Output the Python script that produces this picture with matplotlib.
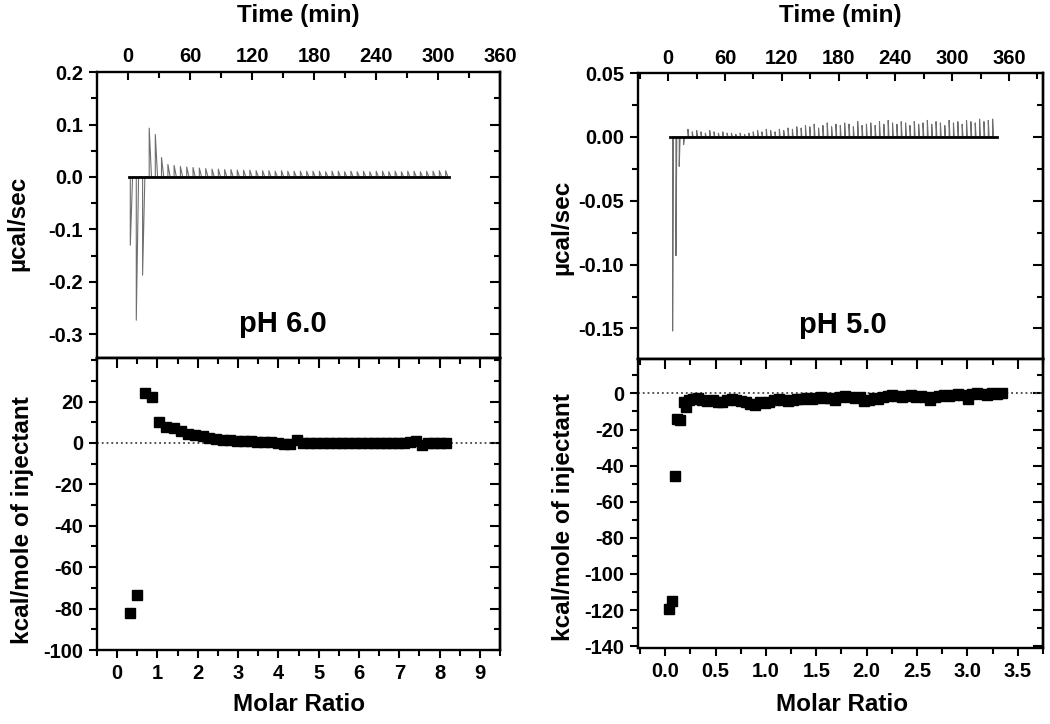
import matplotlib
matplotlib.use("Agg")
import matplotlib.pyplot as plt
from matplotlib.ticker import MultipleLocator, FixedLocator

plt.rcParams["font.family"] = ["Liberation Sans", "DejaVu Sans"]
plt.rcParams["font.weight"] = "bold"
plt.rcParams["axes.labelweight"] = "bold"
plt.rcParams["axes.unicode_minus"] = False

# --- pH 6.0 raw thermogram (injection time in min, peak in ucal/sec)
inj_time_ph6 = [2.2, 8.0, 14.1, 20.5, 26.4, 32.4, 38.6, 44.6, 50.7, 56.8,
                62.9, 69.0, 75.2, 81.3, 87.4, 93.5, 99.6, 105.7, 111.8, 117.9,
                124.0, 130.2, 136.3, 142.4, 148.5, 154.6, 160.7, 166.8, 172.9, 179.0,
                185.2, 191.3, 197.4, 203.5, 209.6, 215.7, 221.8, 227.9, 234.0, 240.2,
                246.3, 252.4, 258.5, 264.6, 270.7, 276.8, 282.9, 289.0, 295.2, 301.3,
                307.4]
inj_peak_ph6 = [-0.130, -0.273, -0.187, 0.093, 0.081, 0.037, 0.024, 0.022, 0.020, 0.019,
                0.018, 0.017, 0.016, 0.015, 0.015, 0.014, 0.014, 0.013, 0.013, 0.013,
                0.012, 0.012, 0.012, 0.011, 0.012, 0.011, 0.011, 0.011, 0.011, 0.011,
                0.011, 0.010, 0.011, 0.011, 0.010, 0.011, 0.010, 0.011, 0.010, 0.011,
                0.011, 0.010, 0.011, 0.010, 0.011, 0.011, 0.010, 0.011, 0.011, 0.012,
                0.012]
baseline_ph6 = [1.0, 311.0]

# --- pH 6.0 integrated heats
ratio_ph6 = [0.32, 0.50, 0.68, 0.86, 1.04, 1.22, 1.40, 1.58, 1.76, 1.94,
             2.12, 2.29, 2.46, 2.63, 2.80, 2.97, 3.14, 3.31, 3.48, 3.65,
             3.82, 3.98, 4.14, 4.30, 4.46, 4.62, 4.78, 4.94, 5.10, 5.26,
             5.42, 5.58, 5.74, 5.90, 6.06, 6.22, 6.37, 6.52, 6.67, 6.82,
             6.97, 7.12, 7.27, 7.42, 7.57, 7.72, 7.87, 8.02, 8.17]
heat_ph6 = [-82.0, -73.4, 23.9, 22.3, 10.2, 7.7, 7.0, 5.7, 4.5, 3.7,
            3.2, 2.6, 2.0, 1.6, 1.3, 1.1, 0.9, 0.7, 0.5, 0.4,
            0.3, 0.1, -0.7, -0.3, 1.5, -0.2, -0.1, -0.2, 0.0, -0.1,
            0.1, -0.2, 0.0, -0.1, 0.1, 0.0, -0.2, 0.1, -0.1, 0.0,
            0.2, 0.2, 0.4, 0.9, -0.8, 0.0, 0.1, -0.1, 0.0]
heat_ticks_ph6 = [-100, -80, -60, -40, -20, 0, 20]

# --- pH 5.0 raw thermogram
inj_time_ph5 = [4.6, 8.1, 11.6, 16.2, 20.8, 25.4, 30.0, 34.6, 39.2, 43.8,
                48.4, 53.0, 57.6, 62.2, 66.8, 71.4, 76.0, 80.6, 85.2, 89.8,
                94.4, 99.0, 103.6, 108.2, 112.8, 117.4, 122.0, 126.6, 131.2, 135.8,
                140.4, 145.0, 149.6, 154.2, 158.8, 163.4, 168.0, 172.6, 177.2, 181.8,
                186.4, 191.0, 195.6, 200.2, 204.8, 209.4, 214.0, 218.6, 223.2, 227.8,
                232.4, 237.0, 241.6, 246.2, 250.8, 255.4, 260.0, 264.6, 269.2, 273.8,
                278.4, 283.0, 287.6, 292.2, 296.8, 301.4, 306.0, 310.6, 315.2, 319.8,
                324.4, 329.0, 333.6, 338.2, 342.8]
inj_peak_ph5 = [-0.152, -0.093, -0.023, -0.006, 0.006, 0.004, 0.005, 0.004, 0.003, 0.005,
                0.004, 0.003, 0.004, 0.003, 0.003, 0.002, 0.003, 0.002, 0.003, 0.004,
                0.005, 0.004, 0.006, 0.005, 0.004, 0.006, 0.005, 0.007, 0.006, 0.008,
                0.007, 0.009, 0.008, 0.010, 0.007, 0.009, 0.011, 0.008, 0.010, 0.009,
                0.011, 0.010, 0.008, 0.012, 0.009, 0.010, 0.011, 0.009, 0.012, 0.010,
                0.013, 0.011, 0.010, 0.012, 0.011, 0.009, 0.012, 0.010, 0.011, 0.013,
                0.010, 0.012, 0.011, 0.009, 0.013, 0.011, 0.012, 0.010, 0.013, 0.012,
                0.011, 0.014, 0.012, 0.013, 0.014]
baseline_ph5 = [1.8, 347.0]

# --- pH 5.0 integrated heats
ratio_ph5 = [0.035, 0.07, 0.10, 0.115, 0.15, 0.185, 0.205, 0.235,
             0.28, 0.33, 0.37, 0.42, 0.47, 0.52, 0.56, 0.61, 0.66, 0.70,
             0.75, 0.80, 0.84, 0.89, 0.94, 0.99, 1.03, 1.08, 1.13, 1.17,
             1.22, 1.27, 1.31, 1.36, 1.41, 1.46, 1.50, 1.55, 1.60, 1.64,
             1.69, 1.74, 1.78, 1.83, 1.88, 1.93, 1.97, 2.02, 2.07, 2.11,
             2.16, 2.21, 2.25, 2.30, 2.35, 2.40, 2.44, 2.49, 2.54, 2.58,
             2.63, 2.68, 2.72, 2.77, 2.82, 2.87, 2.91, 2.96, 3.01, 3.05,
             3.10, 3.15, 3.19, 3.24, 3.29, 3.34]
heat_ph5 = [-119.3, -114.8, -45.9, -14.3, -14.7, -4.6, -7.7, -3.6,
            -3.0, -2.5, -3.5, -4.0, -3.5, -4.5, -4.5, -3.5, -3.0, -3.5,
            -4.0, -5.0, -6.0, -6.3, -5.0, -5.5, -4.5, -3.5, -3.0, -3.5,
            -4.0, -3.5, -3.0, -3.0, -2.5, -3.0, -2.5, -2.0, -2.5, -2.5,
            -3.5, -2.0, -1.5, -2.0, -2.5, -2.0, -4.0, -3.5, -2.5, -3.0,
            -2.0, -1.5, -1.0, -1.5, -2.0, -1.5, -1.0, -2.0, -1.5, -2.0,
            -3.5, -2.0, -1.5, -1.0, -1.5, -1.0, -0.5, -1.0, -3.0, -0.5,
            0.0, -0.5, -1.0, 0.0, -0.5, 0.0]
heat_ticks_ph5 = [-140, -120, -100, -80, -60, -40, -20, 0]

TICK_FS = 14.5
LABEL_FS = 17.5


def spike_trace(times, peaks, tail):
	# each injection drawn as a sharp rise and a short decay back to baseline
	xs, ys = [], []
	for t, h in zip(times, peaks):
		xs += [t, t, t + tail]
		ys += [0.0, h, 0.0]
	return xs, ys


def style_axes(ax, side_axis):
	for sp in ax.spines.values():
		sp.set_linewidth(1.7)
	ax.tick_params(which="both", width=1.5, labelsize=TICK_FS)
	ax.tick_params(which="major", length=6, pad=4)
	ax.tick_params(which="minor", length=4)
	for lab in ax.get_xticklabels() + ax.get_yticklabels():
		lab.set_fontweight("bold")
	side_axis.tick_params(which="both", direction="in", width=1.5)
	side_axis.tick_params(which="major", length=7)
	side_axis.tick_params(which="minor", length=4.5)
	for sp in side_axis.spines.values():
		sp.set_linewidth(1.7)


def raw_panel(ax, times, peaks, base, tail, xlim, ylim, ymaj, ymin, yfmt, text, text_x):
	xs, ys = spike_trace(times, peaks, tail)
	ax.plot(xs, ys, color="#6e6e6e", linewidth=0.8)
	ax.plot(base, [0, 0], color="black", linewidth=2.0)
	ax.set_xlim(*xlim)
	ax.set_ylim(*ylim)
	ax.xaxis.set_major_locator(MultipleLocator(60))
	ax.xaxis.set_minor_locator(MultipleLocator(30))
	ax.yaxis.set_major_locator(MultipleLocator(ymaj))
	ax.yaxis.set_minor_locator(MultipleLocator(ymin))
	ax.yaxis.set_major_formatter(yfmt)
	ax.xaxis.tick_top()
	ax.tick_params(axis="x", which="both", direction="in", top=True, bottom=False,
				   labeltop=True, labelbottom=False)
	ax.tick_params(axis="x", which="major", pad=6)
	ax.tick_params(axis="y", which="both", direction="out", left=True, right=False)
	ax.set_xlabel("Time (min)", fontsize=LABEL_FS, fontweight="bold")
	ax.xaxis.set_label_position("top")
	ax.set_ylabel("\u00b5cal/sec", fontsize=LABEL_FS, fontweight="bold")
	ax.text(text_x, 0.12, text, transform=ax.transAxes, fontsize=21,
			fontweight="bold", ha="center", va="center")
	sec = ax.secondary_yaxis("right")
	sec.yaxis.set_major_locator(MultipleLocator(ymaj))
	sec.yaxis.set_minor_locator(MultipleLocator(ymin))
	sec.tick_params(labelright=False)
	style_axes(ax, sec)


def heat_panel(ax, ratio, heat, xlim, ylim, xmaj, xmin, xfmt, yticks):
	ax.axhline(0, color="#444444", linestyle=":", linewidth=1.3)
	ax.plot(ratio, heat, "s", color="black", markersize=6.5)
	ax.set_xlim(*xlim)
	ax.set_ylim(*ylim)
	ax.xaxis.set_major_locator(MultipleLocator(xmaj))
	ax.xaxis.set_minor_locator(MultipleLocator(xmin))
	ax.xaxis.set_major_formatter(xfmt)
	ax.yaxis.set_major_locator(FixedLocator(yticks))
	ax.yaxis.set_minor_locator(MultipleLocator(10))
	ax.tick_params(which="both", direction="out", top=False, right=False)
	ax.tick_params(axis="x", which="major", pad=6)
	ax.set_xlabel("Molar Ratio", fontsize=LABEL_FS, fontweight="bold")
	ax.set_ylabel("kcal/mole of injectant", fontsize=LABEL_FS, fontweight="bold")
	sec_x = ax.secondary_xaxis("top")
	sec_x.xaxis.set_major_locator(MultipleLocator(xmaj))
	sec_x.xaxis.set_minor_locator(MultipleLocator(xmin))
	sec_x.tick_params(labeltop=False)
	sec_y = ax.secondary_yaxis("right")
	sec_y.yaxis.set_major_locator(FixedLocator(yticks))
	sec_y.yaxis.set_minor_locator(MultipleLocator(10))
	sec_y.tick_params(labelright=False)
	style_axes(ax, sec_x)
	style_axes(ax, sec_y)


fig = plt.figure(figsize=(10.5, 7.24), dpi=100)

ax_raw6 = fig.add_axes([0.0924, 0.5055, 0.3838, 0.395])
ax_heat6 = fig.add_axes([0.0924, 0.1022, 0.3838, 0.4033])
ax_raw5 = fig.add_axes([0.6076, 0.504, 0.3857, 0.395])
ax_heat5 = fig.add_axes([0.6076, 0.105, 0.3857, 0.399])

raw_panel(ax_raw6, inj_time_ph6, inj_peak_ph6, baseline_ph6, 2.2,
		  (-30, 360), (-0.345, 0.2), 0.1, 0.05, "{x:.1f}", "pH 6.0", 0.46)
raw_panel(ax_raw5, inj_time_ph5, inj_peak_ph5, baseline_ph5, 0.9,
		  (-32, 396), (-0.174, 0.05), 0.05, 0.025, "{x:.2f}", "pH 5.0", 0.506)

heat_panel(ax_heat6, ratio_ph6, heat_ph6, (-0.5, 9.5), (-100, 41), 1, 0.5, "{x:.0f}",
		   heat_ticks_ph6)
heat_panel(ax_heat5, ratio_ph5, heat_ph5, (-0.27, 3.75), (-141, 19), 0.5, 0.25, "{x:.1f}",
		   heat_ticks_ph5)

# label placement (centre of text, axes fraction)
for ax, (lx, ly) in [(ax_raw6, (-0.196, 0.472)), (ax_heat6, (-0.186, 0.445)),
					 (ax_raw5, (-0.188, 0.46)), (ax_heat5, (-0.183, 0.453))]:
	ax.yaxis.label.set_va("center")
	ax.yaxis.label.set_ha("center")
	ax.yaxis.set_label_coords(lx, ly)

for ax, (lx, ly) in [(ax_raw6, (0.5, 1.199)), (ax_raw5, (0.5, 1.203)),
					 (ax_heat6, (0.501, -0.188)), (ax_heat5, (0.504, -0.197))]:
	ax.xaxis.label.set_va("center")
	ax.xaxis.set_label_coords(lx, ly)

fig.savefig("out.png", dpi=100)
